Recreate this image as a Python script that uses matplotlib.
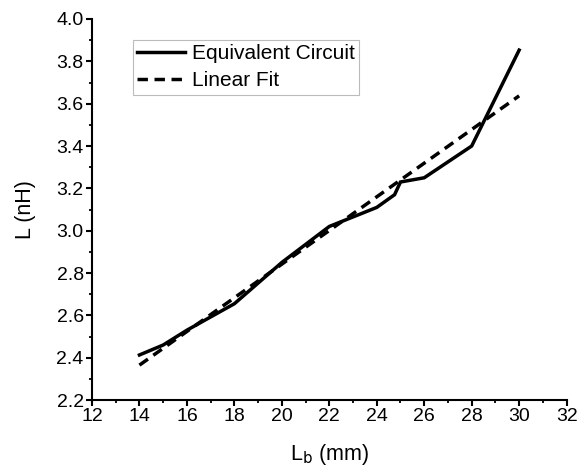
import matplotlib
matplotlib.use("Agg")
import matplotlib.pyplot as plt
from matplotlib.ticker import MultipleLocator, FormatStrFormatter

plt.rcParams['font.family'] = ['Liberation Sans', 'DejaVu Sans']

# 数据：等效电路与线性拟合
lb = [14, 15, 16, 18, 20, 22, 24, 24.75, 25, 26, 28, 30]
l_circuit = [2.413, 2.46, 2.53, 2.655, 2.85, 3.02, 3.11, 3.17, 3.23, 3.25, 3.40, 3.853]
fit_x = [14, 30]
fit_y = [2.365, 3.637]

fig = plt.figure(figsize=(5.77, 4.69), dpi=100)
ax = fig.add_axes([0.1594, 0.147, 0.8226, 0.8125])

ax.plot(lb, l_circuit, color='black', lw=2.5, solid_joinstyle='miter', label='Equivalent Circuit')
ax.plot(fit_x, fit_y, color='black', lw=2.5, dashes=(3.0, 1.9), label='Linear Fit')

ax.set_xlim(12, 32)
ax.set_ylim(2.2, 4.0)
ax.xaxis.set_major_locator(MultipleLocator(2))
ax.xaxis.set_minor_locator(MultipleLocator(1))
ax.yaxis.set_major_locator(MultipleLocator(0.2))
ax.yaxis.set_minor_locator(MultipleLocator(0.1))
ax.yaxis.set_major_formatter(FormatStrFormatter('%.1f'))

for s in ['top', 'right']:
    ax.spines[s].set_visible(False)
for s in ['left', 'bottom']:
    ax.spines[s].set_linewidth(1.5)
ax.tick_params(which='major', direction='out', length=4, width=1.5, labelsize=14, pad=2)
ax.tick_params(which='minor', direction='out', length=2.5, width=1.3)

ax.set_xlabel('L$_\\mathrm{b}$ (mm)', fontsize=15.5, labelpad=12)
ax.set_ylabel('L (nH)', fontsize=15.5, labelpad=15)

leg = ax.legend(loc='upper left', bbox_to_anchor=(0.086, 0.945), borderaxespad=0,
                fontsize=15, handlelength=2.3, handletextpad=0.35, labelspacing=0.4,
                borderpad=0.2, fancybox=False, framealpha=1)
leg.get_frame().set_edgecolor('#bbbbbb')
leg.get_frame().set_linewidth(0.8)

fig.savefig('out.png', dpi=100)
